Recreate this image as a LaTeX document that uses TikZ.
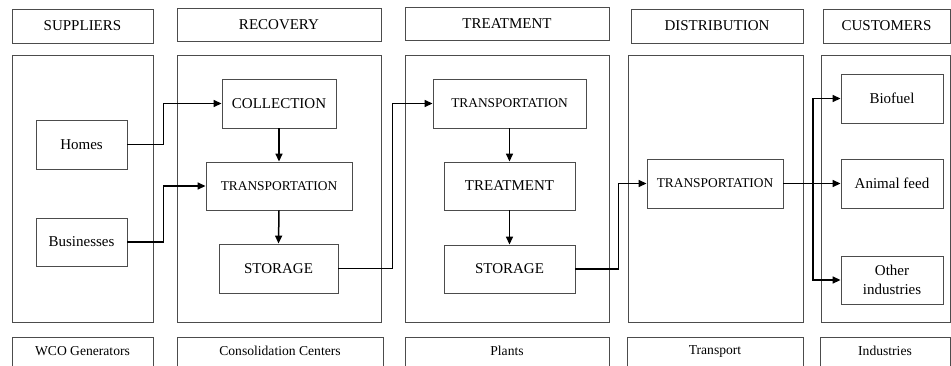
\documentclass[tikz,border=0pt]{standalone}
\usepackage{fontspec}
\setmainfont{Liberation Serif}
\usetikzlibrary{arrows.meta}
\tikzset{
  frame/.style={draw=black!70, line width=0.9pt, inner sep=0pt, fill=none},
  big/.style={font=\fontsize{15}{19}\selectfont},
  mid/.style={font=\fontsize{13.4}{16}\selectfont},
  small/.style={font=\fontsize{13.6}{16}\selectfont},
  arr/.style={line width=1.5pt, -{Triangle[length=8pt,width=7pt]}}
}
\begin{document}
\begin{tikzpicture}[x=1pt,y=-1pt]
\useasboundingbox[fill=white] (0,0) rectangle (951,365);
% headers
\node[frame,big,minimum width=141,minimum height=34] (hsup) at (82.5,26) {SUPPLIERS};
\node[frame,big,minimum width=204,minimum height=33] (hrec) at (279,24.5) {RECOVERY};
\node[frame,big,minimum width=204,minimum height=33] (htre) at (507,23.5) {TREATMENT};
\node[frame,big,minimum width=172,minimum height=34] (hdis) at (717,26) {DISTRIBUTION};
\node[frame,big,minimum width=127,minimum height=34] (hcus) at (886.5,26) {CUSTOMERS};
% main panels
\node[frame,minimum width=141,minimum height=267] (msup) at (82.5,188.5) {};
\node[frame,minimum width=204,minimum height=267] (mrec) at (279,188.5) {};
\node[frame,minimum width=204,minimum height=267] (mtre) at (507,188.5) {};
\node[frame,minimum width=175,minimum height=267] (mdis) at (715.5,188.5) {};
\node[frame,minimum width=129,minimum height=267] (mcus) at (885.5,188.5) {};
% bottom boxes
\node[frame,minimum width=141,minimum height=40] (bsup) at (82.5,357) {};
\node[frame,minimum width=206,minimum height=40] (brec) at (280,357) {};
\node[frame,minimum width=204,minimum height=40] (btre) at (507,357) {};
\node[frame,minimum width=176,minimum height=40] (bdis) at (715,357) {};
\node[frame,minimum width=130,minimum height=40] (bcus) at (885,357) {};
\node[small] (tsup) at (82.5,351) {WCO Generators};
\node[small] (trec) at (280,351) {Consolidation Centers};
\node[small] (ttre) at (507,351) {Plants};
\node[small] (tdis) at (715,351) {Transport};
\node[small] (tcus) at (885,351) {Industries};
% inner boxes
\node[frame,big,minimum width=91,minimum height=49] (homes) at (81.5,144.5) {Homes};
\node[frame,big,minimum width=91,minimum height=48] (bus) at (81.5,242) {Businesses};
\node[frame,big,minimum width=114,minimum height=49] (coll) at (279,103.5) {COLLECTION};
\node[frame,mid,minimum width=146,minimum height=48] (rtr) at (279,186) {TRANSPORTATION};
\node[frame,big,minimum width=119,minimum height=49] (rsto) at (278.5,268.5) {STORAGE};
\node[frame,mid,minimum width=153,minimum height=49] (ttr) at (509.5,103.5) {TRANSPORTATION};
\node[frame,big,minimum width=131,minimum height=48] (ttrt) at (509.5,186) {TREATMENT};
\node[frame,big,minimum width=131,minimum height=48] (tsto) at (509.5,269) {STORAGE};
\node[frame,mid,minimum width=136,minimum height=49] (dtr) at (715,183.5) {TRANSPORTATION};
\node[frame,big,minimum width=102,minimum height=49] (bio) at (892,98.5) {Biofuel};
\node[frame,big,minimum width=102,minimum height=49] (ani) at (892,183.5) {Animal feed};
\node[frame,big,minimum width=102,minimum height=48,align=center] (oth) at (892,280) {Other\\industries};
% connectors
\draw[arr] (homes.east) -- ++(36,0) |- (coll.west);
\draw[arr] (bus.east) -- ++(36,0) |- (rtr.west);
\draw[arr] (coll.south) -- (rtr.north);
\draw[arr] (rtr.south) -- (rsto.north);
\draw[arr] (rsto.east) -- ++(54,0) |- (ttr.west);
\draw[arr] (ttr.south) -- (ttrt.north);
\draw[arr] (ttrt.south) -- (tsto.north);
\draw[arr] (tsto.east) -- ++(43,0) |- (dtr.west);
\coordinate (j) at (813,183.5);
\draw[arr] (dtr.east) -- (ani.west);
\draw[arr] (j) |- (bio.west);
\draw[arr] (j) |- (oth.west);
\end{tikzpicture}
\end{document}
